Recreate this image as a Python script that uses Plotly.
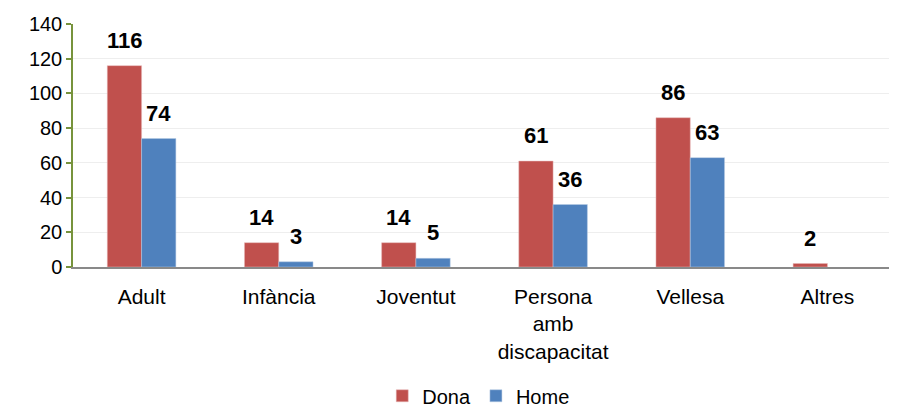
import plotly.graph_objects as go

categories = ["Adult", "Infància", "Joventut", "Persona<br>amb<br>discapacitat", "Vellesa", "Altres"]
dona = [116, 14, 14, 61, 86, 2]
home = [74, 3, 5, 36, 63, None]

DONA_COLOR = "#C0504D"
HOME_COLOR = "#4F81BD"
FONT = "Liberation Sans, Arial, sans-serif"

fig = go.Figure()
fig.add_trace(go.Bar(name="Dona", x=categories, y=dona, marker_color=DONA_COLOR,
                     marker_line=dict(color="#E6B9B8", width=0.5)))
fig.add_trace(go.Bar(name="Home", x=categories, y=home, marker_color=HOME_COLOR,
                     marker_line=dict(color="#B9CDE5", width=0.5)))

# value labels above each bar, shifted to sit over their own bar in the group
annotations = []
for series, shift in ((dona, -17), (home, 17)):
    for cat, val in zip(categories, series):
        if val is None:
            continue
        annotations.append(dict(
            x=cat, y=val, xref="x", yref="y", text=f"<b>{val}</b>",
            showarrow=False, yanchor="bottom", xshift=shift, yshift=11,
            font=dict(family=FONT, size=22, color="black"),
        ))

# page body has an 8px margin, so the figure is sized to the visible area
fig.update_layout(
    width=889, height=404,
    margin=dict(l=65, r=1, t=16, b=145, autoexpand=False),
    plot_bgcolor="white", paper_bgcolor="white",
    barmode="group", bargap=0.5, bargroupgap=0,
    font=dict(family=FONT, size=21, color="black"),
    annotations=annotations,
    showlegend=True,
    legend=dict(orientation="h", x=0.493, xanchor="center", y=-0.53, yanchor="middle",
                font=dict(size=20), itemwidth=30, tracegroupgap=0),
)
fig.update_xaxes(
    showline=True, linecolor="#898989", linewidth=1.5, automargin=False,
    ticks="", ticklabelstandoff=10, tickfont=dict(size=21),
)
fig.update_yaxes(
    range=[0, 140], dtick=20, showgrid=True, gridcolor="#EEEEEE", gridwidth=1,
    showline=True, linecolor="#77933C", linewidth=1.5, automargin=False,
    ticks="outside", tickcolor="#77933C", ticklen=5, tickwidth=1.5,
    tickfont=dict(size=20), zeroline=False,
)

fig.write_html("out.html")
